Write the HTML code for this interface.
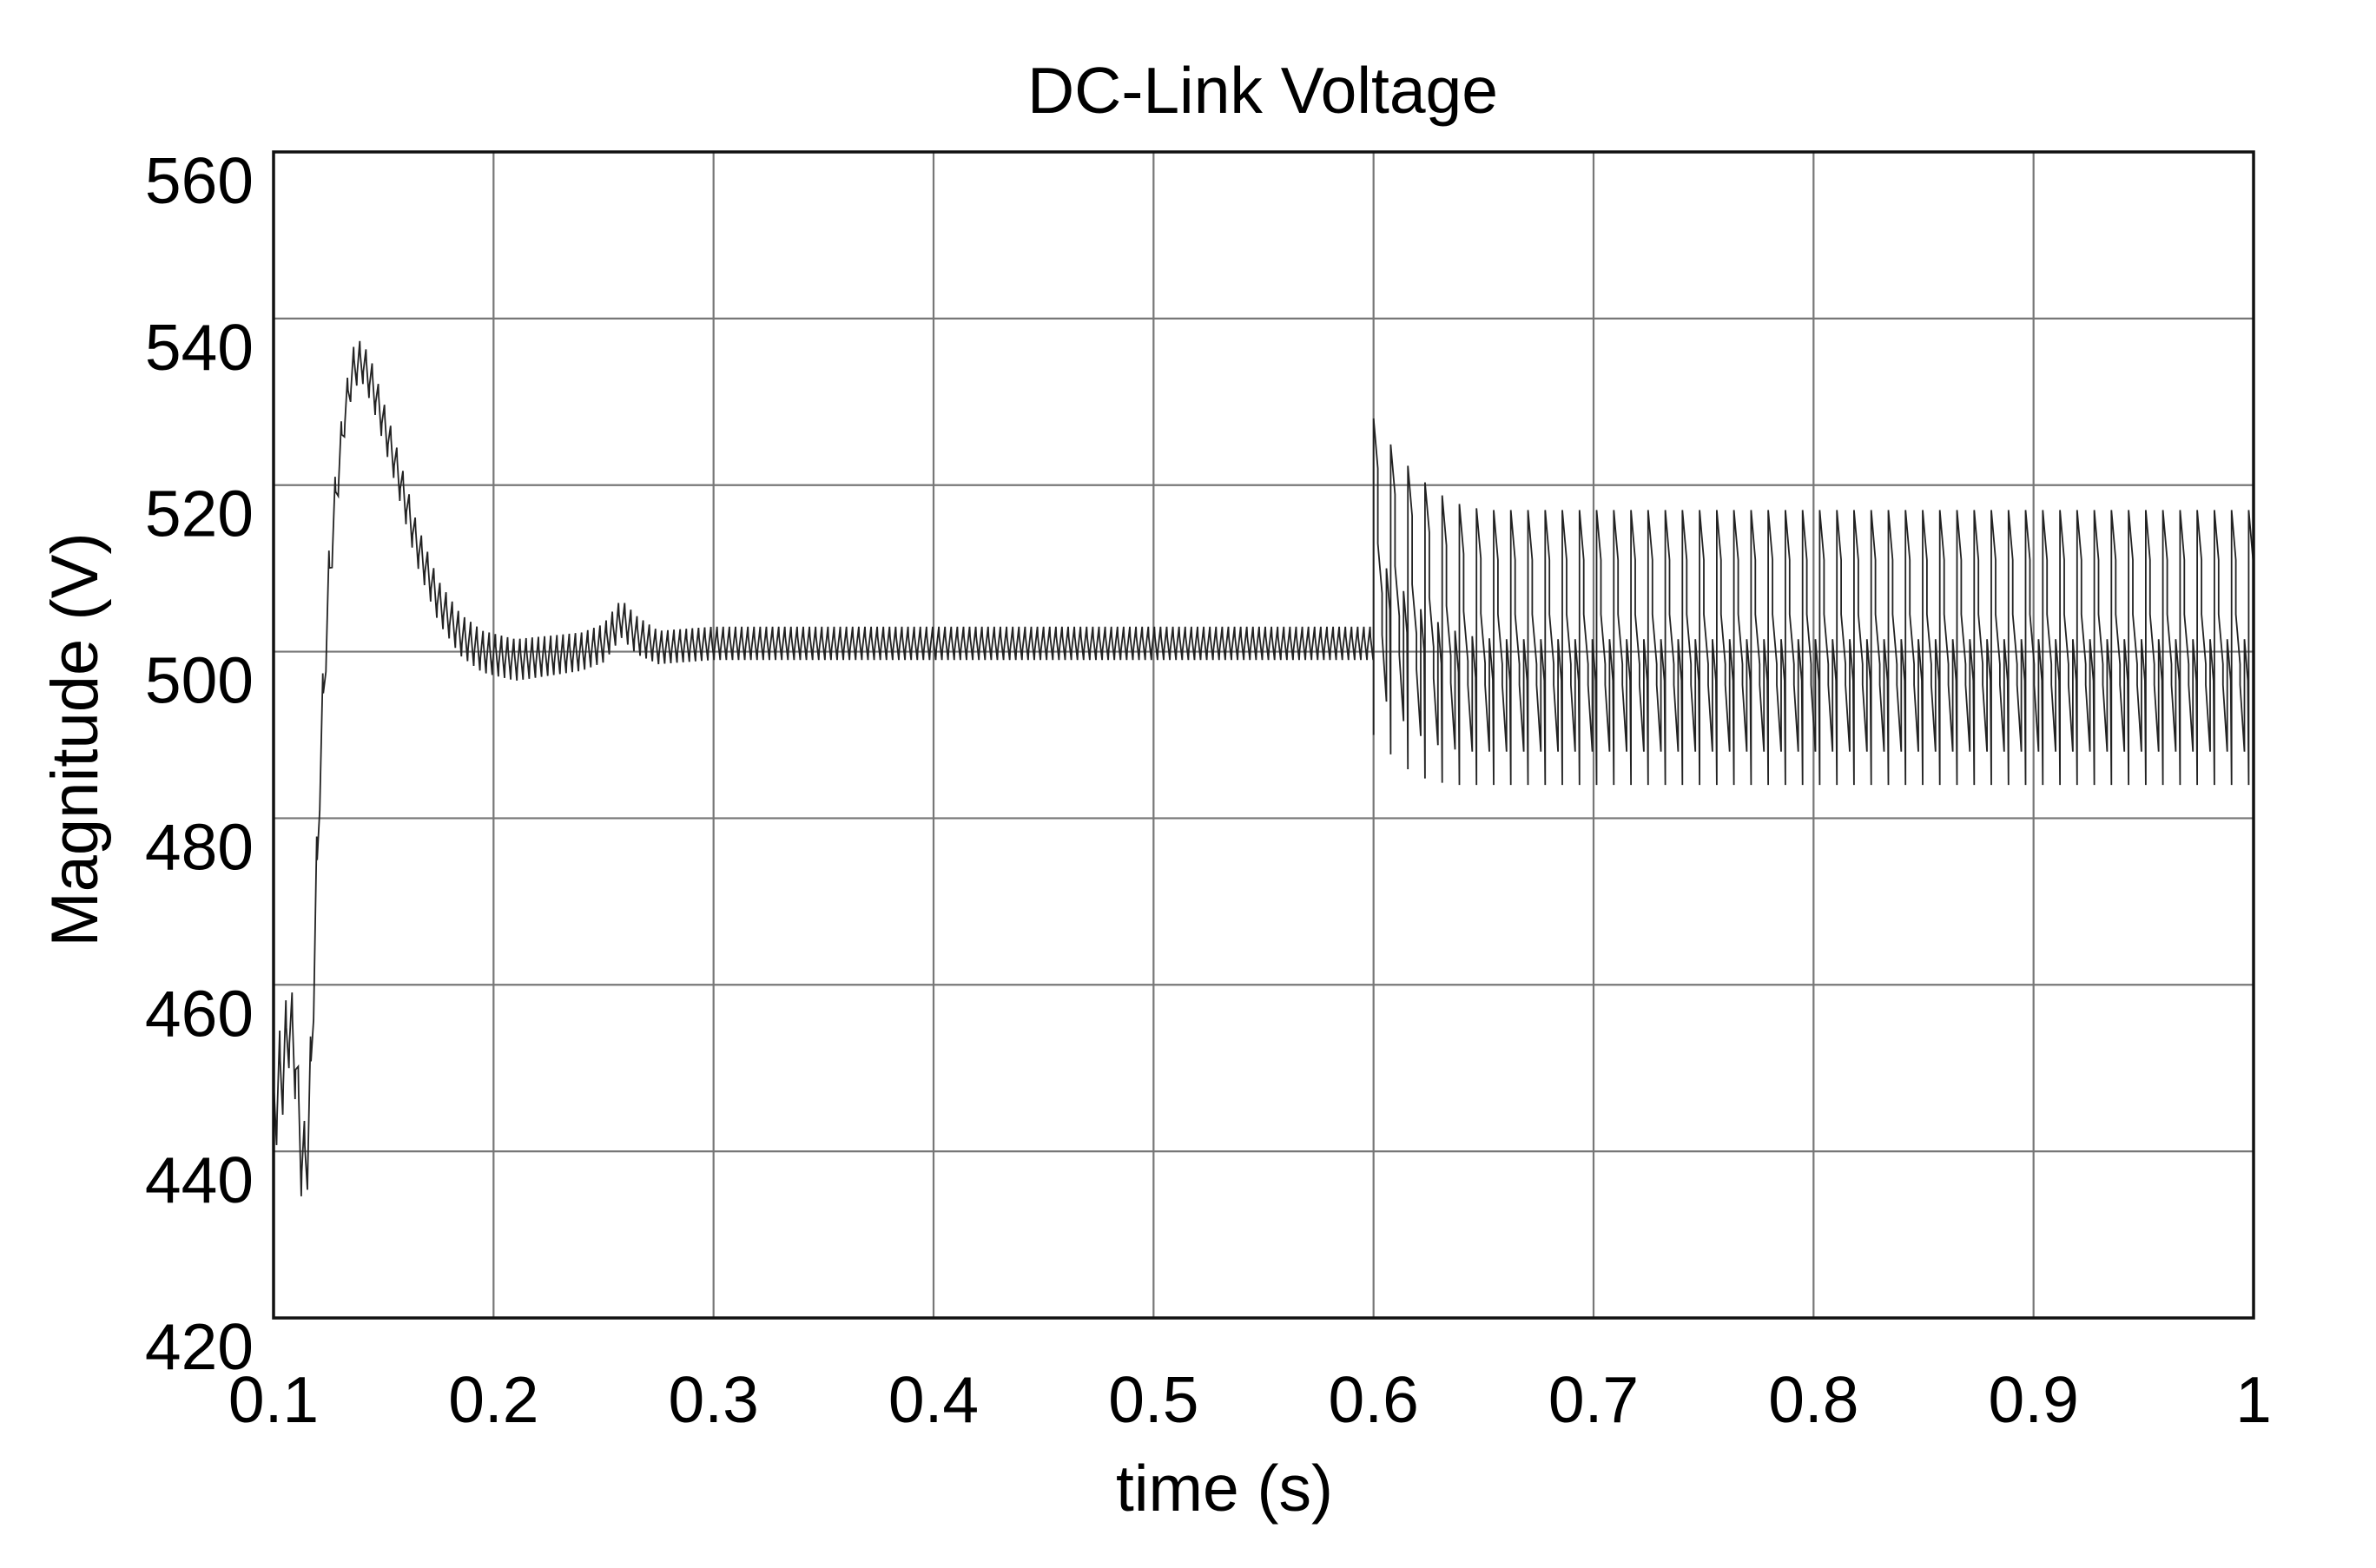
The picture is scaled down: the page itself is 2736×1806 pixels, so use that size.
<!DOCTYPE html>
<html><head><meta charset="utf-8"><style>
html,body{margin:0;padding:0;background:#fff;}
svg{display:block;font-family:"Liberation Sans",Arial,sans-serif;}
</style></head><body>
<svg id="chart" width="2736" height="1806" viewBox="0 0 2736 1806" xmlns="http://www.w3.org/2000/svg">
<rect width="2736" height="1806" fill="#fff"/>
<text x="1454" y="130" font-size="75" text-anchor="middle">DC-Link Voltage</text>
<text x="1410" y="1740" font-size="75" text-anchor="middle">time (s)</text>
<text x="0" y="0" font-size="76" text-anchor="middle" transform="translate(112,852) rotate(-90)">Magnitude (V)</text>
<g id="grid"></g><g id="ticks"></g><g id="series"></g>
<rect x="315" y="175" width="2280" height="1343" fill="none" stroke="#111" stroke-width="3.5"/>
</svg>
<script>
const xTicks = [0.1,0.2,0.3,0.4,0.5,0.6,0.7,0.8,0.9,1];
const xTickLabels = ["0.1","0.2","0.3","0.4","0.5","0.6","0.7","0.8","0.9","1"];
const yTicks = [420,440,460,480,500,520,540,560];
const yTickLabels = ["420","440","460","480","500","520","540","560"];
// segment 1: mean envelope + ripple amplitude
const s1Times = [0.1,0.104,0.107,0.11,0.112,0.115,0.117,0.119,0.121,0.123,0.125,0.128,0.132,0.136,0.14,0.145,0.155,0.165,0.175,0.185,0.195,0.21,0.24,0.25,0.258,0.265,0.275,0.3,0.6];
const s1Mean  = [445,450,455,452,440,438,450,468,485,497,508,518,528,534,535,532,523,513,506,502,500,499,500,501,504,502,500.5,501,501];
const s1Amp   = [6,6,5,6,5,5,5,5,4,4,3.5,3,2.5,2.5,2.5,2.5,2.5,2.5,2.5,2.5,2.5,2.5,2.3,2.3,2.3,2.3,2,2,2];
const s1Period = [0.0028];
// segment 2: upper/lower envelopes of the load-step oscillation
const s2Times = [0.6,0.61,0.62,0.635,0.65,1.0];
const s2High  = [528,524,521,518,517,517];
const s2Low   = [490,487,485,484,484,484];
const s2Period = [0.0078];

const X0=315,X1=2595,Y0=1518,Y1=175;
const xs = t => X0 + (t-0.1)/(0.9)*(X1-X0);
const ys = v => Y0 - (v-420)/140*(Y0-Y1);
const NS="http://www.w3.org/2000/svg";
function interp(T,V,t){ if(t<=T[0])return V[0]; for(let i=1;i<T.length;i++){ if(t<=T[i]){const f=(t-T[i-1])/(T[i]-T[i-1]);return V[i-1]+f*(V[i]-V[i-1]);} } return V[V.length-1]; }
function mk(tag,parent){const e=document.createElementNS(NS,tag);parent.appendChild(e);return e;}
const grid=document.getElementById('grid'), ticks=document.getElementById('ticks'), ser=document.getElementById('series');
xTicks.forEach((t,i)=>{
  const l=mk('line',grid);
  
  
  l.setAttribute('x1',xs(t));l.setAttribute('x2',xs(t));l.setAttribute('y1',Y1);l.setAttribute('y2',Y0);
  l.setAttribute('stroke','#777');l.setAttribute('stroke-width','2.2');
  const tx=mk('text',ticks);
  
  
  tx.setAttribute('x',xs(t));tx.setAttribute('y',1638);tx.setAttribute('font-size','75');tx.setAttribute('text-anchor','middle');
  tx.textContent=xTickLabels[i];
});
yTicks.forEach((v,i)=>{
  const l=mk('line',grid);
  
  
  l.setAttribute('x1',X0);l.setAttribute('x2',X1);l.setAttribute('y1',ys(v));l.setAttribute('y2',ys(v));
  l.setAttribute('stroke','#777');l.setAttribute('stroke-width','2.2');
  const tx=mk('text',ticks);
  
  
  tx.setAttribute('x',292);tx.setAttribute('y',ys(v)+59);tx.setAttribute('font-size','75');tx.setAttribute('text-anchor','end');
  tx.textContent=yTickLabels[i];
});
let pts=[];
const p1=s1Period[0];
let k=0;
for(let t=0.1;t<0.6;t+=p1/2){
  const m=interp(s1Times,s1Mean,t), a=interp(s1Times,s1Amp,t);
  const sgn=(k%2===0)?1:-1;
  pts.push([t,m+sgn*a]); pts.push([t+p1/2*0.15,m+sgn*a*0.4]);
  k++;
}
const p2=s2Period[0];
for(let t=0.6;t<1.0;t+=p2){
  const hi=interp(s2Times,s2High,t), lo=interp(s2Times,s2Low,t), mid=(hi+lo)/2;
  const q=p2/4;
  pts.push([t,lo]);pts.push([t,hi]);pts.push([t+q,hi-6]);pts.push([t+q,mid+4]);
  pts.push([t+2*q,mid-2]);pts.push([t+2*q,lo+12]);pts.push([t+3*q,lo+4]);
  pts.push([t+3*q,mid+1]);pts.push([t+4*q-0.0004,mid-4]);
}
pts=pts.filter(p=>p[0]<=1.0);
const path=mk('path',ser);


path.setAttribute('d',pts.map((p,i)=>(i?'L':'M')+xs(p[0]).toFixed(1)+' '+ys(p[1]).toFixed(1)).join(''));
path.setAttribute('fill','none');path.setAttribute('stroke','#222');path.setAttribute('stroke-width','1.8');
</script>
</body></html>
